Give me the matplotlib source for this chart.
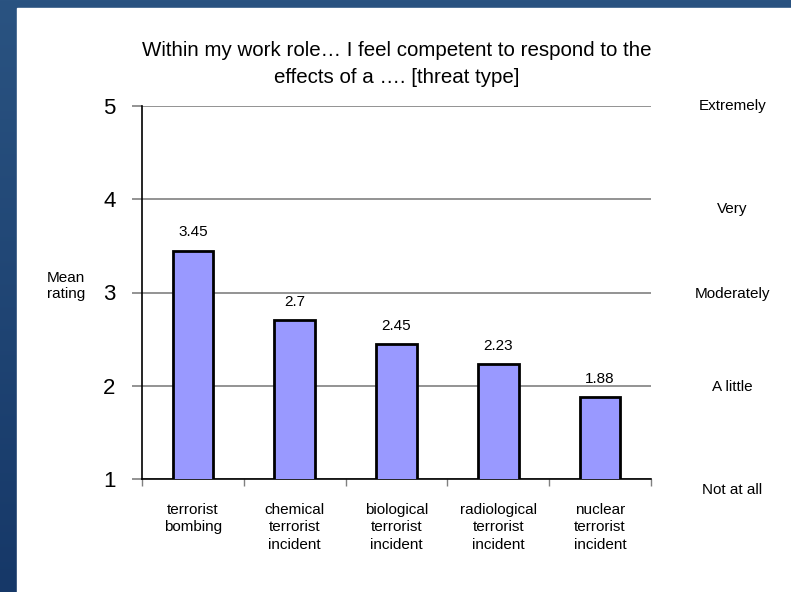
import matplotlib

matplotlib.use("Agg")

import matplotlib.pyplot as plt
import numpy as np
from matplotlib.patches import Rectangle

plt.rcParams["font.family"] = ["Liberation Sans", "DejaVu Sans"]

categories = [
    "terrorist\nbombing",
    "chemical\nterrorist\nincident",
    "biological\nterrorist\nincident",
    "radiological\nterrorist\nincident",
    "nuclear\nterrorist\nincident",
]
means = [3.45, 2.7, 2.45, 2.23, 1.88]
value_labels = ["3.45", "2.7", "2.45", "2.23", "1.88"]
y_ticks = [1, 2, 3, 4, 5]
scale_labels = ["Not at all", "A little", "Moderately", "Very", "Extremely"]
title = "Within my work role\u2026 I feel competent to respond to the\neffects of a \u2026. [threat type]"

fig = plt.figure(figsize=(7.91, 5.92), dpi=100)

# slide background: blue gradient with a white panel
bg = fig.add_axes([0, 0, 1, 1], zorder=-10)
grad = np.linspace(0, 1, 256).reshape(-1, 1)
top_col = np.array([0x2A, 0x53, 0x81]) / 255
bot_col = np.array([0x16, 0x38, 0x68]) / 255
img = top_col + (bot_col - top_col) * grad[..., None]
bg.imshow(img, aspect="auto", extent=[0, 1, 0, 1], origin="upper")
bg.add_patch(Rectangle((17 / 791, 0), 1, 1 - 8 / 592, color="white", zorder=2))
bg.set_xlim(0, 1)
bg.set_ylim(0, 1)
bg.axis("off")

ax = fig.add_axes([142 / 791, 113 / 592, 509 / 791, 373 / 592])
ax.set_facecolor("none")
x = np.arange(len(categories))
ax.bar(x, means, width=0.4, color="#9999FF", edgecolor="black", linewidth=2, zorder=3)
ax.set_xlim(-0.5, len(categories) - 0.5)
ax.set_ylim(1, 5)

for xi, m, lab in zip(x, means, value_labels):
    ax.annotate(lab, (xi, m), xytext=(0, 8), textcoords="offset points",
                ha="center", va="bottom", fontsize=11)

ax.set_yticks(y_ticks)
ax.set_yticklabels([str(t) for t in y_ticks], fontsize=16)
ax.yaxis.grid(True, color="#808080", linewidth=1.2)
ax.set_axisbelow(True)
ax.tick_params(axis="y", length=7, color="#808080", width=1.2, pad=12)

ax.set_xticks(np.arange(len(categories) + 1) - 0.5)
ax.set_xticklabels([])
ax.set_xticks(x, minor=True)
ax.set_xticklabels(categories, minor=True, fontsize=11, linespacing=1.35)
ax.tick_params(axis="x", which="major", length=5, color="#808080", width=1)
ax.tick_params(axis="x", which="minor", length=0, pad=17)

for s in ["top", "right"]:
    ax.spines[s].set_visible(False)
ax.spines["left"].set_color("black")
ax.spines["bottom"].set_color("black")
ax.spines["left"].set_linewidth(1.2)
ax.spines["bottom"].set_linewidth(1.2)

# right-hand scale descriptors
scale_offsets = [-0.12, -0.01, -0.02, -0.1, 0.0]
for t, lab, off in zip(y_ticks, scale_labels, scale_offsets):
    ax.text(1.16, t + off, lab, transform=ax.get_yaxis_transform(),
            ha="center", va="center", fontsize=11, clip_on=False)

fig.text(47 / 791, 1 - 286 / 592, "Mean\nrating", ha="left", va="center",
         fontsize=11, linespacing=1.2)

fig.text(397 / 791, 1 - 64 / 592, title, ha="center", va="center",
         fontsize=14.8, linespacing=1.55)

fig.savefig("out.png", dpi=100)
